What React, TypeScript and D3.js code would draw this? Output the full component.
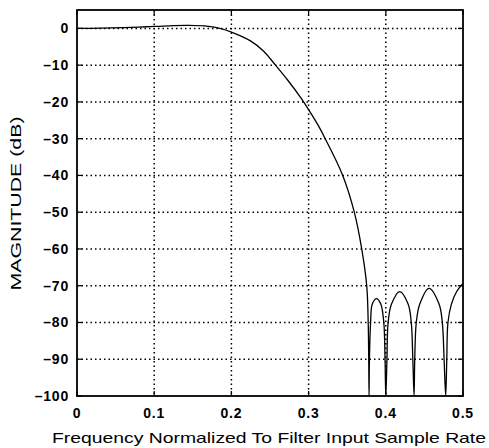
import React from "react";
import * as d3 from "d3";

// Frequency (normalized to filter input sample rate) and magnitude (dB)
const freq = [
  0, 0.03, 0.06, 0.09, 0.12, 0.145, 0.17, 0.185, 0.2, 0.2247, 0.2418, 0.2571, 0.2723, 0.29,
  0.3, 0.313, 0.3215, 0.3442, 0.3592, 0.3688, 0.3753, 0.3772, 0.3779, 0.3783,
  0.3788, 0.3803, 0.3825, 0.388, 0.3935, 0.3974, 0.399, 0.4,
  0.4015, 0.403, 0.4074, 0.418, 0.4289, 0.433, 0.435, 0.4366,
  0.4375, 0.4395, 0.444, 0.456, 0.469, 0.4732, 0.4755, 0.4776,
  0.479, 0.4805, 0.485, 0.492, 0.5,
];
const magnitude = [
  0, 0.05, 0.2, 0.45, 0.7, 0.8, 0.55, 0, -1.0, -3.4, -6.2, -10, -13.9, -18.9,
  -22.1, -26.6, -30, -40, -50, -60, -70, -80, -90, -100,
  -90, -80, -75, -73.5, -75, -80, -90, -100,
  -90, -80, -75, -71.6, -75, -80, -90, -100,
  -90, -80, -75, -70.7, -75, -80, -90, -100,
  -90, -80, -75, -71.5, -69.4,
];

const xTicks = [0, 0.1, 0.2, 0.3, 0.4, 0.5];
const xTickLabels = ["0", "0.1", "0.2", "0.3", "0.4", "0.5"];
const yTicks = [0, -10, -20, -30, -40, -50, -60, -70, -80, -90, -100];
const yTickLabels = ["0", "–10", "–20", "–30", "–40", "–50", "–60", "–70", "–80", "–90", "–100"];
const xTitle = "Frequency Normalized To Filter Input Sample Rate";
const yTitle = "MAGNITUDE (dB)";

const W = 489;
const H = 448;
const L = 77;
const R = 463;
const T = 10;
const B = 396;
const FONT = "'Liberation Sans', Arial, Helvetica, sans-serif";

export default function App() {
  const x = d3.scaleLinear().domain([0, 0.5]).range([L, R]);
  const y = d3.scaleLinear().domain([-100, 5]).range([B, T]);
  const pts: [number, number][] = freq.map((f, i) => [f, magnitude[i]]);
  const line = d3
    .line<[number, number]>()
    .x((d) => x(d[0]))
    .y((d) => y(d[1]))
    .curve(d3.curveCatmullRom.alpha(0.5));

  const tickLen = 5;

  return (
    <svg
      width={W}
      height={H}
      style={{ position: "absolute", left: 0, top: 0, background: "#fff" }}
    >
      <rect x={0} y={0} width={W} height={H} fill="#fff" />
      <defs>
        <clipPath id="plotclip">
          <rect x={L} y={T} width={R - L} height={B - T} />
        </clipPath>
      </defs>
      {/* grid */}
      <g stroke="#000" strokeWidth={1.5} strokeDasharray="1.5,3">
        {xTicks
          .filter((t) => t > 0 && t < 0.5)
          .map((t) => (
            <line key={"gx" + t} x1={x(t)} x2={x(t)} y1={T} y2={B} />
          ))}
        {yTicks
          .filter((t) => t > -100)
          .map((t) => (
            <line key={"gy" + t} x1={L} x2={R} y1={y(t)} y2={y(t)} />
          ))}
      </g>
      {/* ticks */}
      <g stroke="#000" strokeWidth={1.2}>
        {xTicks.map((t) => (
          <g key={"tx" + t}>
            <line x1={x(t)} x2={x(t)} y1={B} y2={B - tickLen} />
            <line x1={x(t)} x2={x(t)} y1={T} y2={T + tickLen} />
          </g>
        ))}
        {yTicks.map((t) => (
          <g key={"ty" + t}>
            <line x1={L} x2={L + tickLen} y1={y(t)} y2={y(t)} />
            <line x1={R} x2={R - tickLen} y1={y(t)} y2={y(t)} />
          </g>
        ))}
      </g>
      {/* curve */}
      <path
        d={line(pts) || ""}
        fill="none"
        stroke="#000"
        strokeWidth={1.3}
        clipPath="url(#plotclip)"
      />
      {/* frame */}
      <rect x={L} y={T} width={R - L} height={B - T} fill="none" stroke="#000" strokeWidth={1.8} />
      {/* tick labels */}
      <g fontFamily={FONT} fontSize={14} fontWeight="bold" fill="#000" letterSpacing={0.8}>
        {xTicks.map((t, i) => (
          <text key={"lx" + t} x={x(t)} y={418} textAnchor="middle">
            {xTickLabels[i]}
          </text>
        ))}
        {yTicks.map((t, i) => (
          <text key={"ly" + t} x={69} y={y(t) + 5} textAnchor="end">
            {yTickLabels[i]}
          </text>
        ))}
      </g>
      {/* axis titles */}
      <text
        x={52}
        y={443}
        fontFamily={FONT}
        fontSize={15}
        fill="#000"
        textLength={434}
        lengthAdjust="spacingAndGlyphs"
      >
        {xTitle}
      </text>
      <text
        transform={`translate(21, ${(T + B) / 2 + 0.5}) rotate(-90)`}
        textAnchor="middle"
        fontFamily={FONT}
        fontSize={14}
        fill="#000"
        textLength={174}
        lengthAdjust="spacingAndGlyphs"
      >
        {yTitle}
      </text>
    </svg>
  );
}
